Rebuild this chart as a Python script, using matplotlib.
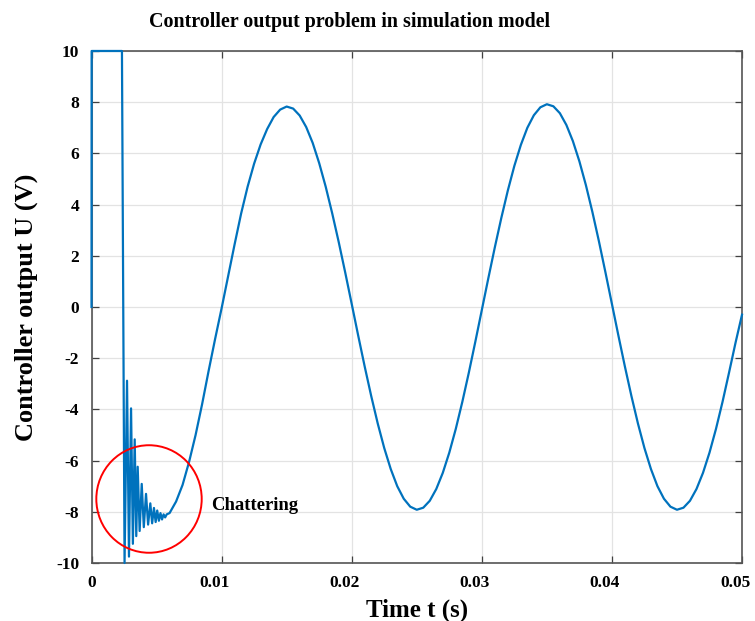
import numpy as np
import matplotlib
matplotlib.use('Agg')
import matplotlib.pyplot as plt
import matplotlib.transforms as mtransforms
from matplotlib.patches import Ellipse

plt.rcParams['font.family'] = 'Liberation Serif'
plt.rcParams['font.weight'] = 'bold'
plt.rcParams['axes.unicode_minus'] = False

# start-up: saturation at +10 V, hard drop, then the chattering burst
t_start = [0.0, 0.00001, 0.00234, 0.00254,
           0.00273, 0.00288, 0.00304, 0.00318, 0.00332, 0.00344, 0.00355, 0.00370,
           0.00386, 0.00402, 0.00419, 0.00435, 0.00452, 0.00466, 0.00480, 0.00493,
           0.00505, 0.00518, 0.00530, 0.00542, 0.00554, 0.00566, 0.00578]
u_start = [0.0, 10.0, 10.0, -10.0,
           -2.88, -9.75, -3.96, -9.25, -5.17, -8.95, -6.24, -8.75,
           -6.91, -8.6, -7.3, -8.5, -7.67, -8.45, -7.85, -8.4,
           -7.95, -8.35, -8.05, -8.3, -8.1, -8.22, -8.1]

# steady part, sampled every 0.5 ms from t = 6 ms
dt = 0.0005
t0 = 0.006
u_steady = [-8.05, -7.6, -6.95, -6.05, -5.0, -3.8, -2.5, -1.25,
            -0.05, 1.2, 2.45, 3.65, 4.7, 5.6, 6.35, 6.95, 7.42, 7.71,
            7.83, 7.75, 7.48, 7.03, 6.41, 5.62, 4.70, 3.66, 2.54, 1.35,
            0.12, -1.12, -2.33, -3.48, -4.55, -5.51, -6.33, -7.0, -7.49, -7.8,
            -7.92, -7.84, -7.57, -7.11, -6.48, -5.69, -4.76, -3.71, -2.57, -1.36,
            -0.12, 1.12, 2.33, 3.48, 4.55, 5.51, 6.33, 7.0, 7.49, 7.8,
            7.92, 7.84, 7.57, 7.11, 6.48, 5.69, 4.76, 3.71, 2.57, 1.36,
            0.12, -1.12, -2.33, -3.48, -4.55, -5.51, -6.33, -7.0, -7.49, -7.8,
            -7.92, -7.84, -7.57, -7.11, -6.48, -5.69, -4.76, -3.71, -2.57, -1.4,
            -0.3]
t_steady = t0 + dt * np.arange(len(u_steady))

t = np.concatenate([t_start, t_steady])
u = np.concatenate([u_start, u_steady])

x_ticks = [0, 0.01, 0.02, 0.03, 0.04, 0.05]
x_labels = ['0', '0.01', '0.02', '0.03', '0.04', '0.05']
y_ticks = [-10, -8, -6, -4, -2, 0, 2, 4, 6, 8, 10]

fig = plt.figure(figsize=(7.55, 6.21), dpi=100)
ax = fig.add_axes([0.1212, 0.0934, 0.8616, 0.8245])

ax.plot(t, u, color='#0072BD', lw=1.6, clip_on=False, zorder=3)

# mark the chattering region
ax.add_patch(Ellipse((0.00442, -7.5), 0.0081, 4.2, fill=False,
                     edgecolor='#FF0000', lw=1.4, zorder=4))
ax.text(0.0092, -7.77, 'Chattering', fontsize=13.4, fontweight='bold',
        ha='left', va='center')

ax.set_xlim(0, 0.05)
ax.set_ylim(-10, 10)
ax.set_xticks(x_ticks)
ax.set_xticklabels(x_labels)
ax.set_yticks(y_ticks)
ax.grid(True, color='#e3e3e3', lw=0.9)
ax.set_axisbelow(True)
ax.tick_params(direction='in', top=True, right=True, length=5, width=0.9,
               color='#404040', labelsize=12.5, pad=9)
for s in ax.spines.values():
    s.set_color('#555555')
    s.set_linewidth(1.2)

# decimal tick labels sit a little left of their ticks
shift = mtransforms.ScaledTranslation(-5 / 72, 0, fig.dpi_scale_trans)
for lab in ax.get_xticklabels()[1:]:
    lab.set_transform(lab.get_transform() + shift)

fig.text(350 / 755, 1 - 22 / 621, 'Controller output problem in simulation model',
         fontsize=14.4, fontweight='bold', ha='center', va='center')
ax.set_xlabel('Time t (s)', fontsize=18, fontweight='bold', labelpad=5)
ax.set_ylabel('Controller output U (V)', fontsize=19, fontweight='bold', labelpad=13)

fig.savefig('out.png', dpi=100)
